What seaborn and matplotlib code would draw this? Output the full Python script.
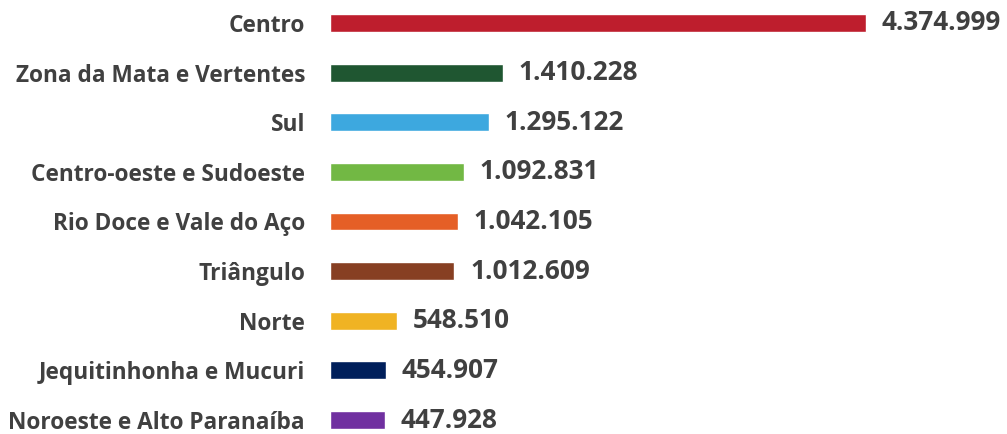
import seaborn as sns
import pandas as pd
import matplotlib.pyplot as plt

regions = ["Centro", "Zona da Mata e Vertentes", "Sul", "Centro-oeste e Sudoeste",
           "Rio Doce e Vale do Aço", "Triângulo", "Norte", "Jequitinhonha e Mucuri",
           "Noroeste e Alto Paranaíba"]
values = [4374999, 1410228, 1295122, 1092831, 1042105, 1012609, 548510, 454907, 447928]
colors = ["#BE1E2D", "#1F5631", "#3DA8DF", "#72B844", "#E55F26",
          "#873F22", "#F0B323", "#001F5B", "#7030A0"]

df = pd.DataFrame({"regiao": regions, "pop": values})

sns.set_style("white")
plt.rcParams["font.family"] = ["Open Sans", "DejaVu Sans"]
text_color = "#404040"

fig = plt.figure(figsize=(10.07, 4.34), dpi=100)
ax = fig.add_axes([330 / 1007, 0, 677 / 1007, 1])

sns.barplot(data=df, x="pop", y="regiao", hue="regiao", palette=colors,
            saturation=1, orient="h", width=0.36, legend=False, ax=ax)

# valores com separador de milhar no formato brasileiro
for cont, v in zip(ax.containers, values):
    ax.bar_label(cont, labels=[f"{v:,}".replace(",", ".")], padding=11.5,
                 fontsize=18.8, fontweight="bold", color=text_color)

ax.set_xlim(0, 4374999 * 677 / 536)
ax.set_ylim(8.282, -0.463)
ax.set_xlabel("")
ax.set_ylabel("")
ax.set_xticks([])
ax.tick_params(axis="y", length=0, pad=18)
for lbl in ax.get_yticklabels():
    lbl.set_fontsize(16.3)
    lbl.set_fontweight("bold")
    lbl.set_color(text_color)
sns.despine(ax=ax, left=True, bottom=True)

fig.savefig("out.png", dpi=100)
